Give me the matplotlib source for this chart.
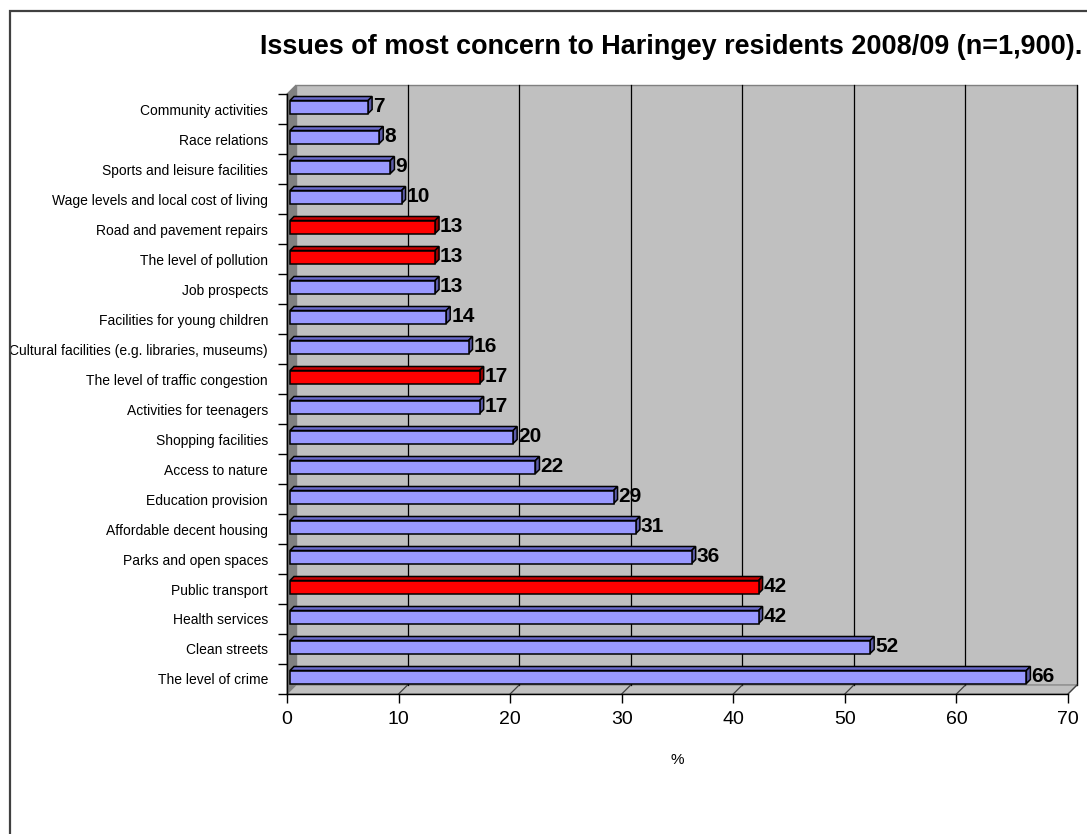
import matplotlib
matplotlib.use("Agg")
import matplotlib.pyplot as plt
from matplotlib.patches import Polygon, Rectangle
from matplotlib.lines import Line2D

plt.rcParams['font.family'] = ['Liberation Sans', 'DejaVu Sans']

title = "Issues of most concern to Haringey residents 2008/09 (n=1,900)."
categories = [
    "Community activities", "Race relations", "Sports and leisure facilities",
    "Wage levels and local cost of living", "Road and pavement repairs",
    "The level of pollution", "Job prospects", "Facilities for young children",
    "Cultural facilities (e.g. libraries, museums)", "The level of traffic congestion",
    "Activities for teenagers", "Shopping facilities", "Access to nature",
    "Education provision", "Affordable decent housing", "Parks and open spaces",
    "Public transport", "Health services", "Clean streets", "The level of crime",
]
values = [7, 8, 9, 10, 13, 13, 13, 14, 16, 17, 17, 20, 22, 29, 31, 36, 42, 42, 52, 66]
highlight = [False, False, False, False, True, True, False, False, False, True,
             False, False, False, False, False, False, True, False, False, False]
xticks = [0, 10, 20, 30, 40, 50, 60, 70]
xlabel = "%"

W, H = 1087, 834
fig = plt.figure(figsize=(W / 100, H / 100), dpi=100)
fig.patch.set_facecolor('white')

# frame
fig.patches.append(Rectangle((10 / W, -0.1), 1.2, 1 - 11 / H + 0.1, transform=fig.transFigure,
                             fill=False, edgecolor='#404040', linewidth=1.6))

L, R, T, B = 287, 1068, 94, 694
ax = fig.add_axes([L / W, 1 - B / H, (R - L) / W, (B - T) / H])
n = len(categories)
xmax = 70
ax.set_xlim(0, xmax)
ax.set_ylim(0, n)
px = xmax / (R - L)
py = n / (B - T)
for s in ax.spines.values():
    s.set_visible(False)
ax.patch.set_visible(False)

D = 9   # wall depth in px
# side wall
ax.add_patch(Polygon([(0, 0), (D * px, D * py), (D * px, n + D * py), (0, n)],
                     closed=True, facecolor='#808080', edgecolor='#808080', lw=0.8, clip_on=False, zorder=1))
# back wall
ax.add_patch(Rectangle((D * px, D * py), xmax, n, facecolor='#C0C0C0', edgecolor='#808080',
                       lw=1.0, clip_on=False, zorder=1))
# floor
ax.add_patch(Polygon([(0, 0), (xmax, 0), (xmax + D * px, D * py), (D * px, D * py)],
                     closed=True, facecolor='#C0C0C0', edgecolor='#808080', lw=0.8, clip_on=False, zorder=1.5))
# gridlines
for t in xticks[1:]:
    ax.add_line(Line2D([t + D * px, t + D * px], [D * py, n + D * py], color='black', lw=0.9,
                       clip_on=False, zorder=2))
    ax.add_line(Line2D([t, t + D * px], [0, D * py], color='#404040', lw=0.9, clip_on=False, zorder=2))

# axes lines
ax.add_line(Line2D([0, 0], [0, n], color='black', lw=1.0, clip_on=False, zorder=3))
ax.add_line(Line2D([0, xmax], [0, 0], color='black', lw=1.0, clip_on=False, zorder=3))

# bars
d0 = 3
db = 4
bh = 13 * py
for i, (v, hl) in enumerate(zip(values, highlight)):
    c = n - i - 0.5
    yc = c + 2 * py
    yb, yt = yc - bh / 2, yc + bh / 2
    x0 = d0 * px
    x1 = v + d0 * px
    ox, oy = db * px, db * py
    if hl:
        fc, tc, sc = '#FF0000', '#CC0000', '#990000'
    else:
        fc, tc, sc = '#9999FF', '#6B6BCC', '#5C5CA8'
    ax.add_patch(Polygon([(x0, yt), (x1, yt), (x1 + ox, yt + oy), (x0 + ox, yt + oy)], closed=True,
                         facecolor=tc, edgecolor='black', lw=1.1, zorder=4, clip_on=False))
    ax.add_patch(Polygon([(x1, yb), (x1 + ox, yb + oy), (x1 + ox, yt + oy), (x1, yt)], closed=True,
                         facecolor=sc, edgecolor='black', lw=1.1, zorder=4, clip_on=False))
    ax.add_patch(Rectangle((x0, yb), v, bh, facecolor=fc, edgecolor='black', lw=1.1, zorder=5, clip_on=False))
    ax.text(x1 + ox + 1 * px, yc + 1 * py, f"{v}", ha='left', va='center', fontsize=15, fontweight='bold',
            color='black', zorder=6)

# ticks
ax.set_xticks(xticks)
ax.set_xticklabels([str(t) for t in xticks], fontsize=14)
ax.tick_params(axis='x', length=9 * 0.72, width=1.0, direction='out', pad=6)
ax.set_yticks(list(range(n + 1)))
ax.set_yticklabels([])
ax.tick_params(axis='y', which='major', length=9 * 0.72, width=1.0, direction='out')
ax.set_yticks([n - i - 0.5 for i in range(n)], minor=True)
ax.set_yticklabels(categories, minor=True, fontsize=10)
ax.tick_params(axis='y', which='minor', length=0, pad=19 * 0.72)
ax.set_xlabel(xlabel, fontsize=11, labelpad=18)

# title fitted to width
t = fig.text(671 / W, 1 - 47 / H, title, ha='center', va='center', fontsize=10, fontweight='bold')
fig.canvas.draw()
bb = t.get_window_extent()
t.set_fontsize(10 * 825 / bb.width)

fig.savefig("out.png", dpi=100)
